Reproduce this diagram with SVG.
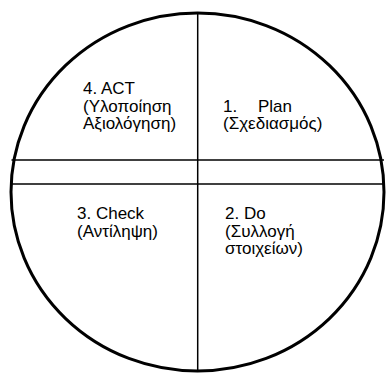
<svg xmlns="http://www.w3.org/2000/svg" width="387" height="374" viewBox="0 0 387 374">
<style>
.t{font-family:"Liberation Sans",Arial,sans-serif;font-size:17px;fill:#000}
.ln{stroke:#000;stroke-width:1.5;fill:none}
</style>
<rect width="387" height="374" fill="#fff"/>
<g id="connectors">
<line class="ln" x1="197.7" y1="13" x2="197.7" y2="371"/>
<line class="ln" x1="11.5" y1="160" x2="384" y2="160"/>
<line class="ln" x1="10.5" y1="184" x2="384.5" y2="184"/>
</g>
<g id="circle">
<ellipse cx="197.5" cy="192" rx="186.5" ry="179" fill="none" stroke="#000" stroke-width="3"/>
</g>
<g id="act">
<text class="t" x="83" y="94">4. ACT</text>
<text class="t" x="83" y="111.5">(Υλοποίηση</text>
<text class="t" x="83" y="129">Αξιολόγηση)</text>
</g>
<g id="plan">
<text class="t" x="223" y="111.5">1.<tspan x="258">Plan</tspan></text>
<text class="t" x="223" y="129">(Σχεδιασμός)</text>
</g>
<g id="check">
<text class="t" x="77" y="219">3. Check</text>
<text class="t" x="77" y="236.5">(Αντίληψη)</text>
</g>
<g id="do">
<text class="t" x="225" y="219">2. Do</text>
<text class="t" x="225" y="236.5">(Συλλογή</text>
<text class="t" x="225" y="254">στοιχείων)</text>
</g>
</svg>
